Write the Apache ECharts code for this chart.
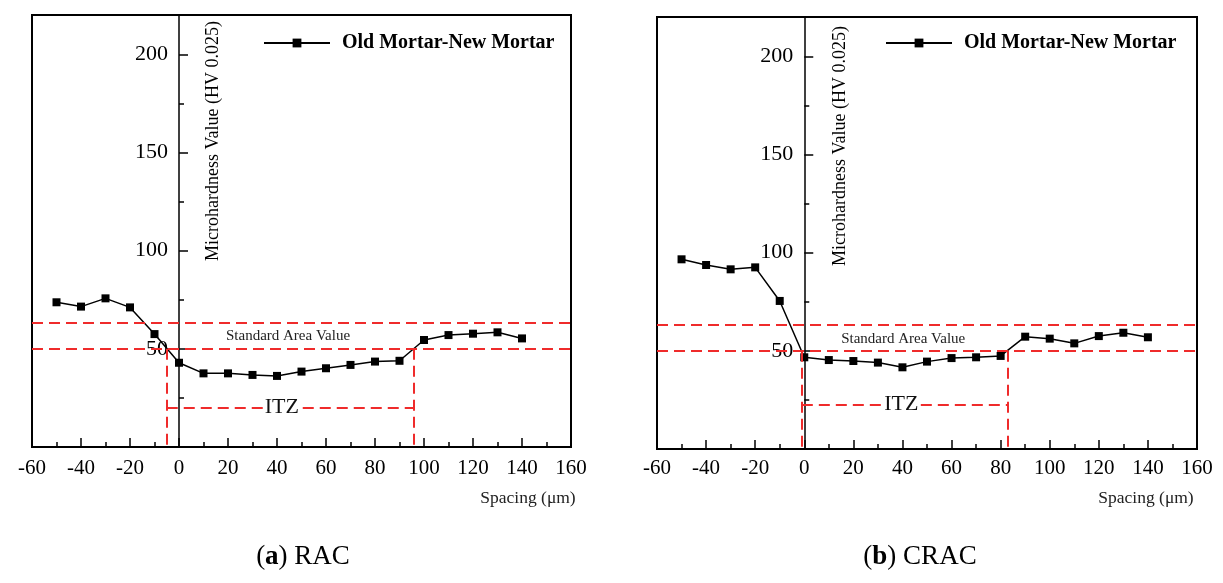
<!DOCTYPE html>
<html>
<head>
<meta charset="utf-8">
<script src="https://cdn.jsdelivr.net/npm/echarts@6/dist/echarts.min.js"></script>
<style>
html,body{margin:0;padding:0;background:#fff;}
#chart{width:1223px;height:583px;}
</style>
</head>
<body>
<div id="chart"></div>
<script>
// ---- data ----
const spacing = [-50, -40, -30, -20, -10, 0, 10, 20, 30, 40, 50, 60, 70, 80, 90, 100, 110, 120, 130, 140];
const racValues = [73.7, 71.5, 75.7, 71.1, 57.5, 42.9, 37.5, 37.5, 36.7, 36.2, 38.4, 40.1, 41.8, 43.5, 43.9, 54.5, 57.0, 57.7, 58.4, 55.3];
const cracValues = [96.6, 93.7, 91.5, 92.5, 75.4, 46.7, 45.3, 44.8, 44.0, 41.6, 44.5, 46.3, 46.7, 47.4, 57.2, 56.2, 53.8, 57.5, 59.2, 56.9];
const seriesName = 'Old Mortar-New Mortar';
const xTicks = [-60, -40, -20, 0, 20, 40, 60, 80, 100, 120, 140, 160];
const yTicks = [50, 100, 150, 200];
// reference annotations
const racRef = {upper: 63.3, lower: 50, itzY: 20.2, itzStart: -5, itzEnd: 96, stdLabelX: 44.5, stdLabelY: 56.5, itzLabelX: 42};
const cracRef = {upper: 63.1, lower: 50, itzY: 22.6, itzStart: -1, itzEnd: 83, stdLabelX: 40.3, stdLabelY: 55.9, itzLabelX: 39.5};
const captions = [['a', ' RAC'], ['b', ' CRAC']];

const FONT = '"Liberation Serif", "Times New Roman", serif';
const RED = '#ef2b2b';
const X_MIN = -60, X_MAX = 160;

const grids = [
  {left: 32, top: 15, width: 539, height: 432},
  {left: 657, top: 17, width: 540, height: 432}
];
// distance (px) from the grid's left edge to x = 0, so the y axis sits on x = 0
const zeroOffset = g => -g.width * (0 - X_MIN) / (X_MAX - X_MIN);

const chart = echarts.init(document.getElementById('chart'), null, {renderer: 'canvas'});

function xAxisDef(gi) {
  return {
    type: 'value', gridIndex: gi, min: X_MIN, max: X_MAX, interval: 20,
    axisLine: {show: true, onZero: false, lineStyle: {color: '#000', width: 2}},
    axisTick: {show: true, inside: true, length: 9, lineStyle: {color: '#000', width: 1.5}},
    minorTick: {show: true, splitNumber: 2, length: 5, lineStyle: {color: '#000', width: 1.5}},
    splitLine: {show: false}, minorSplitLine: {show: false},
    axisLabel: {color: '#000', fontFamily: FONT, fontSize: 21, margin: gi === 0 ? 11 : 9,
      hideOverlap: false, showMinLabel: true, showMaxLabel: true,
      formatter: v => xTicks.includes(v) ? String(v) : ''}
  };
}
function yAxisDef(gi) {
  return {
    type: 'value', gridIndex: gi, position: 'left', offset: zeroOffset(grids[gi]),
    min: 0, max: 220, interval: 50,
    axisLine: {show: true, onZero: false, lineStyle: {color: '#000', width: 1.5}},
    axisTick: {show: true, inside: true, length: 9, lineStyle: {color: '#000', width: 1.5}},
    splitLine: {show: false},
    axisLabel: {color: '#000', fontFamily: FONT, fontSize: 22, margin: 11, hideOverlap: false,
      formatter: v => yTicks.includes(v) ? String(v) : ''}
  };
}
function yMinorDef(gi) {
  return {
    type: 'value', gridIndex: gi, position: 'left', offset: zeroOffset(grids[gi]),
    min: 0, max: 220, interval: 25,
    axisLine: {show: false, onZero: false},
    axisTick: {show: true, inside: true, length: 5, lineStyle: {color: '#000', width: 1.5}},
    splitLine: {show: false},
    axisLabel: {show: false}
  };
}

function refMarks(r) {
  const dash = {color: RED, width: 2, type: [11, 6]};
  return {
    markLine: {
      silent: true, symbol: ['none', 'none'], animation: false,
      label: {show: false},
      lineStyle: dash,
      data: [
        {yAxis: r.upper},
        {yAxis: r.lower},
        [{coord: [r.itzStart, r.lower]}, {coord: [r.itzStart, 0]}],
        [{coord: [r.itzEnd, r.lower]}, {coord: [r.itzEnd, 0]}],
        [{coord: [r.itzStart, r.itzY]}, {coord: [r.itzEnd, r.itzY]}]
      ]
    },
    markPoint: {
      silent: true, animation: false, symbol: 'rect', symbolSize: 1,
      itemStyle: {color: 'rgba(0,0,0,0)'},
      data: [
        {coord: [r.stdLabelX, r.stdLabelY],
          label: {show: true, position: 'inside', formatter: 'Standard Area Value',
            color: '#222', fontFamily: FONT, fontSize: 15}},
        {coord: [r.itzLabelX, r.itzY],
          label: {show: true, position: 'inside', formatter: 'ITZ',
            color: '#111', fontFamily: FONT, fontSize: 22, backgroundColor: '#fff', padding: [0, 1]}}
      ]
    }
  };
}

function lineSeries(gi, values, ref) {
  return Object.assign({
    name: seriesName, type: 'line', xAxisIndex: gi, yAxisIndex: gi,
    data: spacing.map((x, i) => [x, values[i]]),
    symbol: 'rect', symbolSize: 8, showAllSymbol: true,
    lineStyle: {color: '#000', width: 1.5},
    itemStyle: {color: '#000'},
    z: 3
  }, refMarks(ref));
}

function legendDef(left) {
  return {
    left: left, top: 33, padding: 0, data: [seriesName],
    itemWidth: 66, itemHeight: 11,
    selectedMode: false,
    textStyle: {color: '#000', fontFamily: FONT, fontSize: 20, fontWeight: 'bold', padding: [0, 0, 0, 7]}
  };
}

const option = {
  animation: false,
  backgroundColor: '#fff',
  grid: grids.map(g => Object.assign({
    show: true, borderColor: '#000', borderWidth: 2, backgroundColor: 'transparent',
    containLabel: false, outerBoundsMode: 'none'
  }, g)),
  legend: [legendDef(263), legendDef(885)],
  xAxis: [xAxisDef(0), xAxisDef(1)],
  yAxis: [yAxisDef(0), yAxisDef(1), yMinorDef(0), yMinorDef(1)],
  series: [lineSeries(0, racValues, racRef), lineSeries(1, cracValues, cracRef)],
  graphic: [
    {type: 'text', x: 213, y: 141, rotation: Math.PI / 2,
      style: {text: 'Microhardness Value (HV 0.025)', fill: '#000', font: '18px ' + FONT, align: 'center', verticalAlign: 'middle'}},
    {type: 'text', x: 840, y: 146, rotation: Math.PI / 2,
      style: {text: 'Microhardness Value (HV 0.025)', fill: '#000', font: '18px ' + FONT, align: 'center', verticalAlign: 'middle'}},
    {type: 'text', x: 528, y: 498,
      style: {text: 'Spacing (\u03bcm)', fill: '#222', font: '17.5px ' + FONT, align: 'center', verticalAlign: 'middle'}},
    {type: 'text', x: 1146, y: 498,
      style: {text: 'Spacing (\u03bcm)', fill: '#222', font: '17.5px ' + FONT, align: 'center', verticalAlign: 'middle'}},
    {type: 'text', x: 303, y: 557,
      style: {text: '{n|(}{b|' + captions[0][0] + '}{n|)' + captions[0][1] + '}', fill: '#000', align: 'center', verticalAlign: 'middle',
        rich: {n: {fontFamily: FONT, fontSize: 27, fill: '#000'}, b: {fontFamily: FONT, fontSize: 27, fontWeight: 'bold', fill: '#000'}}}},
    {type: 'text', x: 920, y: 557,
      style: {text: '{n|(}{b|' + captions[1][0] + '}{n|)' + captions[1][1] + '}', fill: '#000', align: 'center', verticalAlign: 'middle',
        rich: {n: {fontFamily: FONT, fontSize: 27, fill: '#000'}, b: {fontFamily: FONT, fontSize: 27, fontWeight: 'bold', fill: '#000'}}}}
  ]
};
chart.setOption(option);
</script>
</body>
</html>
